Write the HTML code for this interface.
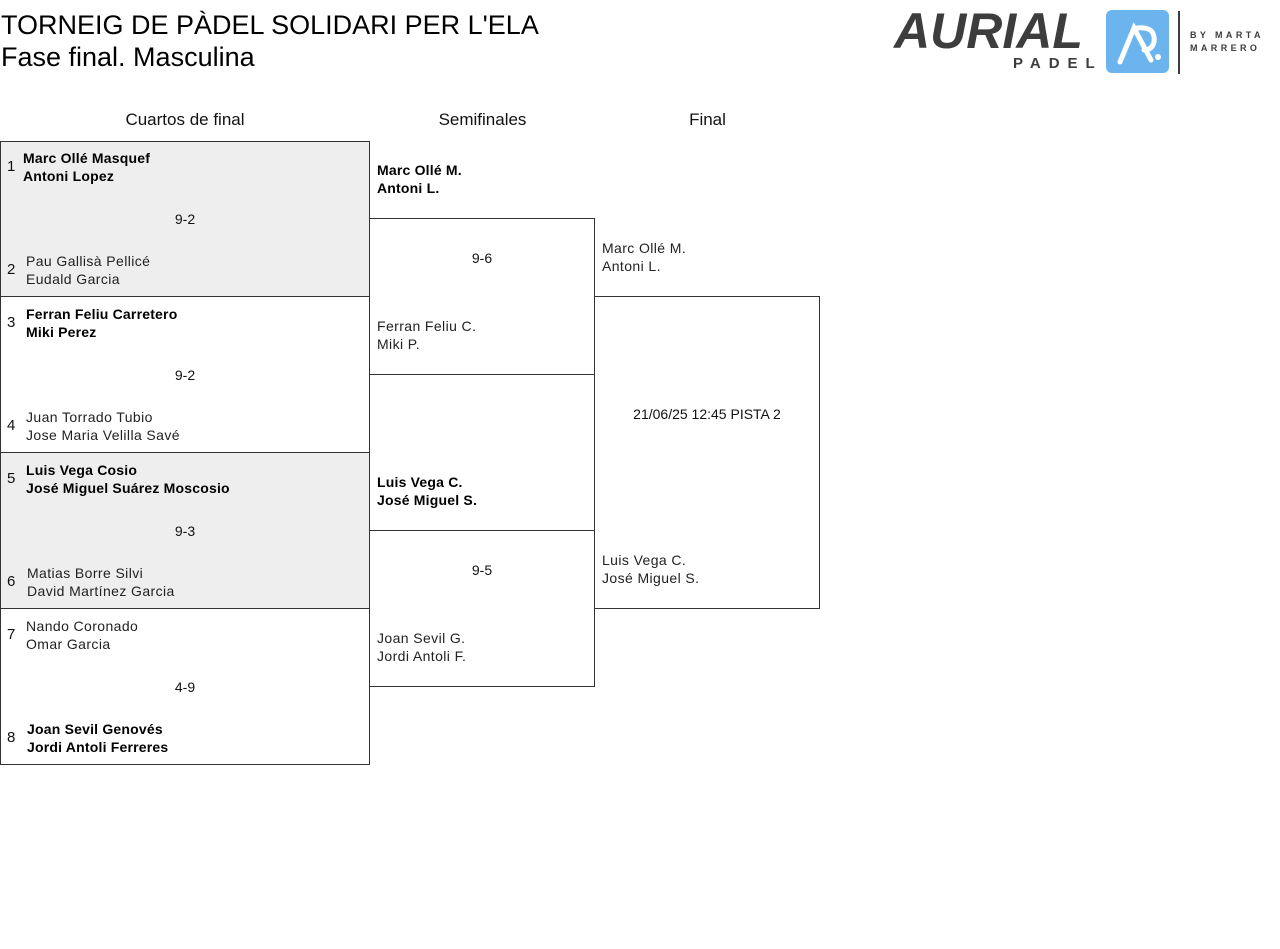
<!DOCTYPE html>
<html><head><meta charset="utf-8"><style>
body{margin:0;width:1280px;height:949px;background:#fff;position:relative;font-family:"Liberation Sans",sans-serif;color:#111;overflow:hidden}
.a{position:absolute}
.box{position:absolute;border:1px solid #333;box-sizing:border-box}
.t{position:absolute;font-size:14px;line-height:18px;white-space:nowrap;color:#222;letter-spacing:0.4px}
.b{font-weight:bold;color:#000;font-size:14px;letter-spacing:0.2px}
.n{position:absolute;font-size:15px;line-height:18px}
.c{position:absolute;font-size:14px;line-height:18px;text-align:center;white-space:nowrap}
.h{position:absolute;font-size:17px;line-height:20px;text-align:center}
</style></head><body>
<div class="a" style="left:1px;top:9px;font-size:27px;line-height:32px;color:#000">TORNEIG DE PÀDEL SOLIDARI PER L'ELA<br>Fase final. Masculina</div>

<!-- logo -->
<div class="a" style="left:894px;top:3px;font-size:50px;font-weight:bold;font-style:italic;color:#3d3d3d;letter-spacing:0px;line-height:56px">AURIAL</div>
<div class="a" style="left:1013px;top:56px;font-size:15px;line-height:15px;font-weight:bold;color:#3d3d3d;letter-spacing:8px">PADEL</div>
<div class="a" style="left:1106px;top:10px;width:63px;height:63px;background:#6cb4ee;border-radius:6px"></div>
<svg class="a" style="left:1106px;top:10px" width="63" height="63"><path d="M14 52 L28 18 L45 50" stroke="#fff" stroke-width="5" fill="none" stroke-linecap="round"/><path d="M31 18 Q50 16 48 32 Q46 40 38 40" stroke="#fff" stroke-width="5" fill="none" stroke-linecap="round"/><circle cx="52" cy="47" r="3" fill="#fff"/></svg>
<div class="a" style="left:1178px;top:11px;width:2px;height:63px;background:#3d3d3d"></div>
<div class="a" style="left:1190px;top:29px;font-size:9px;font-weight:bold;color:#3d3d3d;letter-spacing:3.4px;line-height:13px">BY MARTA<br>MARRERO</div>

<div class="h" style="left:0;width:370px;top:110px">Cuartos de final</div>
<div class="h" style="left:370px;width:225px;top:110px">Semifinales</div>
<div class="h" style="left:595px;width:225px;top:110px">Final</div>

<div class="box" style="left:0;top:141px;width:370px;height:156px;background:#eee"></div>
<div class="box" style="left:0;top:296px;width:370px;height:157px"></div>
<div class="box" style="left:0;top:452px;width:370px;height:157px;background:#eee"></div>
<div class="box" style="left:0;top:608px;width:370px;height:157px"></div>
<div class="box" style="left:369px;top:218px;width:226px;height:157px"></div>
<div class="box" style="left:369px;top:530px;width:226px;height:157px"></div>
<div class="box" style="left:594px;top:296px;width:226px;height:313px"></div>

<div class="n" style="left:7px;top:158px">1</div>
<div class="t b" style="left:23px;top:149px">Marc Ollé Masquef<br>Antoni Lopez</div>
<div class="c" style="left:0;width:370px;top:210px">9-2</div>
<div class="n" style="left:7px;top:261px">2</div>
<div class="t" style="left:26px;top:252px">Pau Gallisà Pellicé<br>Eudald Garcia</div>

<div class="n" style="left:7px;top:314px">3</div>
<div class="t b" style="left:26px;top:305px">Ferran Feliu Carretero<br>Miki Perez</div>
<div class="c" style="left:0;width:370px;top:366px">9-2</div>
<div class="n" style="left:7px;top:417px">4</div>
<div class="t" style="left:26px;top:408px">Juan Torrado Tubio<br>Jose Maria Velilla Savé</div>

<div class="n" style="left:7px;top:470px">5</div>
<div class="t b" style="left:26px;top:461px">Luis Vega Cosio<br>José Miguel Suárez Moscosio</div>
<div class="c" style="left:0;width:370px;top:522px">9-3</div>
<div class="n" style="left:7px;top:573px">6</div>
<div class="t" style="left:27px;top:564px">Matias Borre Silvi<br>David Martínez Garcia</div>

<div class="n" style="left:7px;top:626px">7</div>
<div class="t" style="left:26px;top:617px">Nando Coronado<br>Omar Garcia</div>
<div class="c" style="left:0;width:370px;top:678px">4-9</div>
<div class="n" style="left:7px;top:729px">8</div>
<div class="t b" style="left:27px;top:720px">Joan Sevil Genovés<br>Jordi Antoli Ferreres</div>

<div class="t b" style="left:377px;top:161px">Marc Ollé M.<br>Antoni L.</div>
<div class="c" style="left:369px;width:226px;top:249px">9-6</div>
<div class="t" style="left:377px;top:317px">Ferran Feliu C.<br>Miki P.</div>

<div class="t b" style="left:377px;top:473px">Luis Vega C.<br>José Miguel S.</div>
<div class="c" style="left:369px;width:226px;top:561px">9-5</div>
<div class="t" style="left:377px;top:629px">Joan Sevil G.<br>Jordi Antoli F.</div>

<div class="t" style="left:602px;top:239px">Marc Ollé M.<br>Antoni L.</div>
<div class="c" style="left:594px;width:226px;top:405px">21/06/25 12:45 PISTA 2</div>
<div class="t" style="left:602px;top:551px">Luis Vega C.<br>José Miguel S.</div>
</body></html>
